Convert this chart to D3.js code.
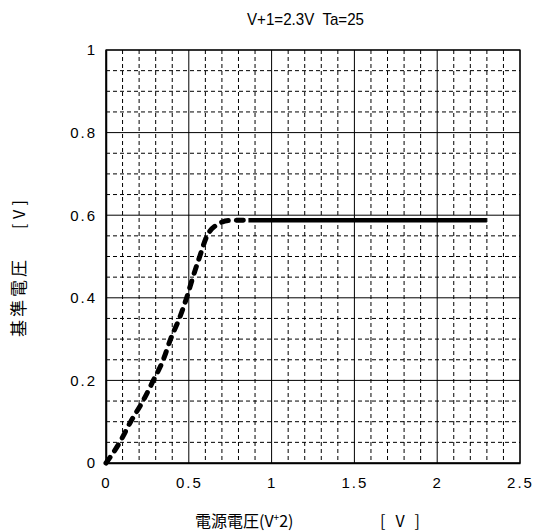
<!DOCTYPE html>
<html>
<head>
<meta charset="utf-8">
<script src="https://cdn.jsdelivr.net/npm/d3@7"></script>
<style>
  body { margin: 0; background: #fff; }
  text { font-family: "Liberation Sans", Arial, sans-serif; fill: #000; white-space: pre; }
  .cjk { font-family: "Noto Sans CJK JP", sans-serif; }
</style>
</head>
<body>
<div id="chart"></div>
<script>
// curve values
const riseX = [0, 0.083, 0.149, 0.223, 0.286, 0.346, 0.39, 0.443, 0.487, 0.525, 0.566, 0.61, 0.685, 0.74, 0.83];
const riseY = [0, 0.05, 0.1, 0.15, 0.2, 0.25, 0.3, 0.35, 0.4, 0.45, 0.5, 0.55, 0.58, 0.587, 0.588];
const flatX = [0.86, 2.3];
const flatY = [0.588, 0.588];

const xTicks = [0, 0.5, 1, 1.5, 2, 2.5];
const yTicks = [0, 0.2, 0.4, 0.6, 0.8, 1];
const xTickLabels = ["0", "0.5", "1", "1.5", "2", "2.5"];
const yTickLabels = ["0", "0.2", "0.4", "0.6", "0.8", "1"];

const W = 534, H = 531;
const margin = { top: 50, right: 14, bottom: 68, left: 106 },
  width = W - margin.left - margin.right,
  height = H - margin.top - margin.bottom;

const svgRoot = d3.select("#chart").append("svg")
  .attr("width", W).attr("height", H);
const svg = svgRoot.append("g")
  .attr("transform", `translate(${margin.left},${margin.top})`);

const x = d3.scaleLinear().domain([0, 2.5]).range([0, width]);
const y = d3.scaleLinear().domain([0, 1]).range([height, 0]);

// minor grid (dashed)
const minorX = d3.range(0, 26).map(i => i / 10).filter(v => Math.round(v * 10) % 5 !== 0);
const minorY = d3.range(0, 21).map(i => i / 20).filter(v => Math.round(v * 20) % 4 !== 0);

svg.append("g").selectAll("line").data(minorX).join("line")
  .attr("x1", d => x(d)).attr("x2", d => x(d))
  .attr("y1", 0).attr("y2", height)
  .attr("stroke", "#000").attr("stroke-width", 1).attr("stroke-dasharray", "4,3");
svg.append("g").selectAll("line").data(minorY).join("line")
  .attr("y1", d => y(d)).attr("y2", d => y(d))
  .attr("x1", 0).attr("x2", width)
  .attr("stroke", "#000").attr("stroke-width", 1).attr("stroke-dasharray", "4,3");

// major grid (solid)
svg.append("g").selectAll("line").data(xTicks).join("line")
  .attr("x1", d => x(d)).attr("x2", d => x(d))
  .attr("y1", 0).attr("y2", height)
  .attr("stroke", "#000").attr("stroke-width", 1);
svg.append("g").selectAll("line").data(yTicks).join("line")
  .attr("y1", d => y(d)).attr("y2", d => y(d))
  .attr("x1", 0).attr("x2", width)
  .attr("stroke", "#000").attr("stroke-width", 1);

// axes
svg.append("g")
  .attr("transform", `translate(0,${height})`)
  .call(d3.axisBottom(x).tickValues(xTicks).tickSize(0).tickPadding(14)
    .tickFormat((d, i) => xTickLabels[i]))
  .call(g => g.select(".domain").attr("stroke-width", 1.5))
  .selectAll("text").style("font-size", "15px").style("letter-spacing", "2px")
  .style("font-family", "Liberation Sans, Arial, sans-serif");

svg.append("g")
  .call(d3.axisLeft(y).tickValues(yTicks).tickSize(0).tickPadding(9)
    .tickFormat((d, i) => yTickLabels[i]))
  .call(g => g.select(".domain").attr("stroke-width", 1.5))
  .selectAll("text").style("font-size", "15px").style("letter-spacing", "2px")
  .style("font-family", "Liberation Sans, Arial, sans-serif");

svg.append("rect")
  .attr("width", width).attr("height", height)
  .attr("fill", "none").attr("stroke", "#000").attr("stroke-width", 1.2);

// curves
const rise = riseX.map((d, i) => [d, riseY[i]]);
const flat = flatX.map((d, i) => [d, flatY[i]]);
const line = d3.line().x(d => x(d[0])).y(d => y(d[1])).curve(d3.curveMonotoneX);

svg.append("path").datum(rise)
  .attr("d", line)
  .attr("fill", "none").attr("stroke", "#000")
  .attr("stroke-width", 5).attr("stroke-linecap", "round")
  .attr("stroke-dasharray", "7,8");

svg.append("path").datum(flat)
  .attr("d", line)
  .attr("fill", "none").attr("stroke", "#000").attr("stroke-width", 4.5);

// title and axis labels
svgRoot.append("text")
  .attr("x", 247).attr("y", 25)
  .attr("textLength", 117).attr("lengthAdjust", "spacingAndGlyphs")
  .style("font-size", "17px")
  .text("V+1=2.3V  Ta=25");

const xl = svgRoot.append("text")
  .attr("x", 195).attr("y", 527)
  .attr("class", "cjk").style("font-size", "16px");
xl.append("tspan").text("電源電圧(V");
xl.append("tspan").attr("dy", -6).style("font-size", "10px").text("+");
xl.append("tspan").attr("dy", 6).text("2)");
svgRoot.append("text")
  .attr("x", 380).attr("y", 527)
  .attr("textLength", 40).attr("lengthAdjust", "spacing")
  .attr("class", "cjk").style("font-size", "16px")
  .text("[  V  ]");

svgRoot.append("text")
  .attr("transform", "translate(25,337) rotate(-90)")
  .attr("textLength", 77).attr("lengthAdjust", "spacing")
  .attr("class", "cjk").style("font-size", "17px")
  .text("基準電圧");
svgRoot.append("text")
  .attr("transform", "translate(25,229) rotate(-90)")
  .attr("textLength", 29).attr("lengthAdjust", "spacing")
  .attr("class", "cjk").style("font-size", "16px")
  .text("[ V ]");
</script>
</body>
</html>
